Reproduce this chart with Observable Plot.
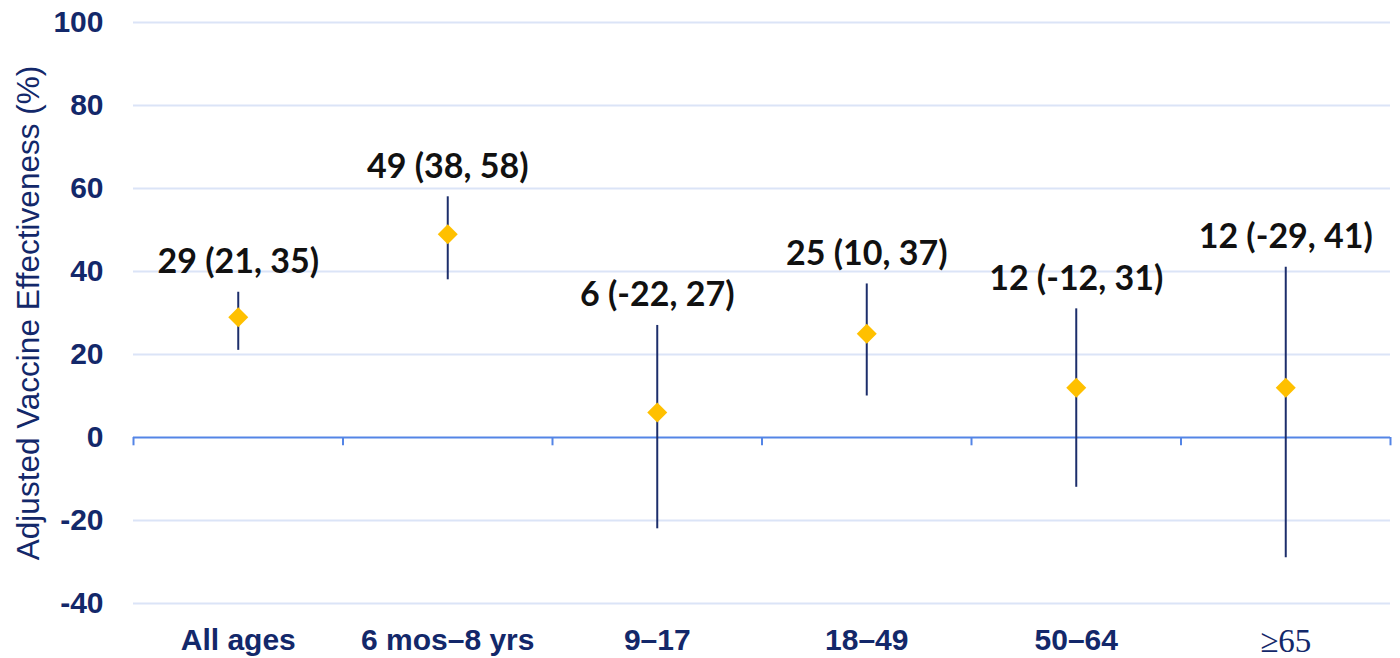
<!DOCTYPE html>
<html>
<head>
<meta charset="utf-8">
<script src="https://cdn.jsdelivr.net/npm/d3@7"></script>
<script src="https://cdn.jsdelivr.net/npm/@observablehq/plot@0.6"></script>
<style>
  html, body { margin: 0; padding: 0; background: #fff; }
  #chart svg { display: block; }
</style>
</head>
<body>
<div id="chart"></div>
<script>
const categories = ["All ages", "6 mos\u20138 yrs", "9\u201317", "18\u201349", "50\u201364", "\u226565"];
const estimates = [29, 49, 6, 25, 12, 12];
const lowerCI = [21, 38, -22, 10, -12, -29];
const upperCI = [35, 58, 27, 37, 31, 41];
const yTicks = [-40, -20, 0, 20, 40, 60, 80, 100];
const gridValues = [-40, -20, 20, 40, 60, 80, 100];
const yTitle = "Adjusted Vaccine Effectiveness (%)";

const data = categories.map((c, i) => ({
  i, cat: c, est: estimates[i], lo: lowerCI[i], hi: upperCI[i],
  label: `${estimates[i]} (${lowerCI[i]}, ${upperCI[i]})`
}));
const boundaries = d3.range(categories.length + 1).map(i => i - 0.5);

const navy = "#13286a";
const plot = Plot.plot({
  width: 1400,
  height: 658,
  marginLeft: 133,
  marginRight: 10,
  marginTop: 22,
  marginBottom: 55,
  style: { background: "#fff", fontFamily: "'Liberation Sans', Arial, sans-serif" },
  x: { domain: [-0.5, categories.length - 0.5] },
  y: { domain: [-40, 100] },
  marks: [
    Plot.ruleY(gridValues, { stroke: "#dbe4f7", strokeWidth: 2 }),
    Plot.ruleY([0], { stroke: "#5485e6", strokeWidth: 2 }),
    Plot.ruleX(boundaries, { y1: 0, y2: -2, stroke: "#5485e6", strokeWidth: 2 }),
    Plot.axisY({
      ticks: yTicks, tickSize: 0, tickPadding: 30, tickFormat: d => String(d),
      fontSize: 30, fontWeight: "bold", color: navy, label: null
    }),
    Plot.text([yTitle], {
      text: d => d, frameAnchor: "left", rotate: -90, dx: -105,
      fontSize: 31.5, fill: navy, textAnchor: "middle"
    }),
    Plot.axisX({
      ticks: d3.range(categories.length), tickFormat: i => categories[i],
      tickSize: 0, tickPadding: 25, fontSize: 30, fontWeight: "bold", color: navy, label: null
    }),
    Plot.ruleX(data, { x: "i", y1: "lo", y2: "hi", stroke: "#1c2e6b", strokeWidth: 2 }),
    Plot.dot(data, { x: "i", y: "est", symbol: "diamond2", r: 9, fill: "#ffc000", stroke: "none" }),
    Plot.text(data, {
      x: "i", y: "hi", text: "label", dy: -30, fontSize: 34, fontWeight: "bold",
      fill: "#111", fontFamily: "Lato, 'Open Sans', sans-serif"
    })
  ]
});
document.getElementById("chart").appendChild(plot);

// last category label drawn in a serif face, as in the source
const xt = d3.select(plot).selectAll("g[aria-label='x-axis tick label'] text");
xt.filter((d, k, n) => k === n.length - 1)
  .attr("font-family", "'Liberation Serif', 'DejaVu Serif', serif")
  .attr("font-weight", "normal").attr("font-size", 33);
</script>
</body>
</html>
